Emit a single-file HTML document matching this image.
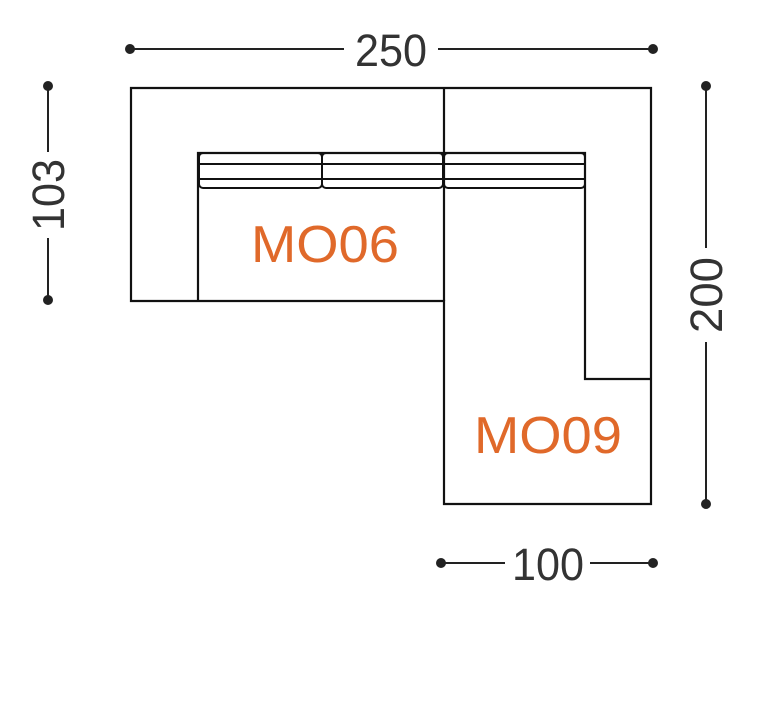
<!DOCTYPE html>
<html><head><style>html,body{margin:0;padding:0;background:#fff}svg{display:block}</style></head>
<body>
<svg width="768" height="701" viewBox="0 0 768 701" xmlns="http://www.w3.org/2000/svg">
<g stroke="#111" stroke-width="2.2" fill="none">
<path d="M131 88 H651 V504 H444 V301 H131 Z"/>
<line x1="444" y1="88" x2="444" y2="301"/>
<path d="M198 301 V153 H585 V379 H651"/>
<g stroke-width="2">
<rect x="199" y="153" width="123" height="35" rx="4"/>
<rect x="322" y="153" width="121" height="35" rx="4"/>
<rect x="444" y="153" width="141" height="35" rx="4"/>
<line x1="199" y1="164" x2="585" y2="164"/>
<line x1="199" y1="179" x2="585" y2="179"/>
</g>
</g>
<g stroke="#222" stroke-width="2" fill="#222">
<line x1="130" y1="49" x2="344" y2="49"/><line x1="438" y1="49" x2="653" y2="49"/>
<circle cx="130" cy="49" r="4"/><circle cx="653" cy="49" r="4"/>
<line x1="48" y1="86" x2="48" y2="152"/><line x1="48" y1="238" x2="48" y2="300"/>
<circle cx="48" cy="86" r="4"/><circle cx="48" cy="300" r="4"/>
<line x1="706" y1="86" x2="706" y2="248"/><line x1="706" y1="342" x2="706" y2="504"/>
<circle cx="706" cy="86" r="4"/><circle cx="706" cy="504" r="4"/>
<line x1="441" y1="563" x2="505" y2="563"/><line x1="590" y1="563" x2="653" y2="563"/>
<circle cx="441" cy="563" r="4"/><circle cx="653" cy="563" r="4"/>
</g>
<g font-family="Liberation Sans, sans-serif" font-size="45" fill="#333" text-anchor="middle">
<text x="391" y="66" textLength="72" lengthAdjust="spacingAndGlyphs">250</text>
<text x="548" y="580" textLength="72" lengthAdjust="spacingAndGlyphs">100</text>
<text transform="translate(64,195) rotate(-90)" textLength="72" lengthAdjust="spacingAndGlyphs">103</text>
<text transform="translate(722,295) rotate(-90)" textLength="76" lengthAdjust="spacingAndGlyphs">200</text>
</g>
<g font-family="Liberation Sans, sans-serif" font-size="52" fill="#e0692a" text-anchor="middle">
<text x="325" y="262" textLength="148" lengthAdjust="spacingAndGlyphs">MO06</text>
<text x="548" y="453" textLength="148" lengthAdjust="spacingAndGlyphs">MO09</text>
</g>
</svg>
</body></html>
